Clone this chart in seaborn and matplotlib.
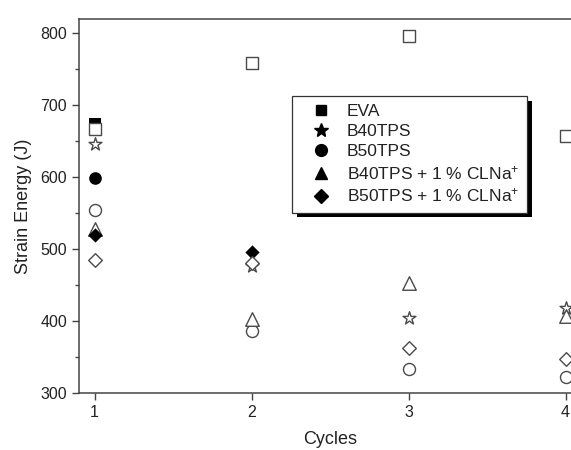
import numpy as np
import pandas as pd
import matplotlib
matplotlib.use("Agg")
import matplotlib.pyplot as plt
import seaborn as sns
from matplotlib.lines import Line2D
from matplotlib import patheffects as pe
from matplotlib.ticker import MultipleLocator

# ---------------- data ----------------
cycles = [1, 2, 3, 4]
series_names = ["EVA", "B40TPS", "B50TPS",
                "B40TPS + 1 % CLNa$^{+}$", "B50TPS + 1 % CLNa$^{+}$"]

# open-symbol values (cycles 1-4)
eva_open = [667, 758, 795, 656]
b40_open = [645, 476, 404, 418]
b50_open = [554, 386, 333, 322]
b40cl_open = [527, 403, 452, 407]
b50cl_open = [484, 481, 362, 347]

# filled-symbol values
eva_fill_cycles = [1]
eva_fill = [674]
b40_fill_cycles = []
b40_fill = []
b50_fill_cycles = [1]
b50_fill = [599]
b40cl_fill_cycles = []
b40cl_fill = []
b50cl_fill_cycles = [1, 2]
b50cl_fill = [519, 495]

y_ticks = [300, 400, 500, 600, 700, 800]

# ---------------- style ----------------
sns.set_style("ticks")
plt.rcParams["font.family"] = ["Liberation Sans", "DejaVu Sans"]
plt.rcParams["mathtext.fontset"] = "custom"
plt.rcParams["mathtext.rm"] = "Liberation Sans"
plt.rcParams["mathtext.it"] = "Liberation Sans"
plt.rcParams["mathtext.default"] = "regular"

markers = ["s", "*", "o", "^", "D"]
sizes = [70, 95, 75, 95, 48]
open_vals = [eva_open, b40_open, b50_open, b40cl_open, b50cl_open]
fill_x = [eva_fill_cycles, b40_fill_cycles, b50_fill_cycles, b40cl_fill_cycles, b50cl_fill_cycles]
fill_y = [eva_fill, b40_fill, b50_fill, b40cl_fill, b50cl_fill]

fig = plt.figure(figsize=(5.71, 4.5), dpi=100)
ax = fig.add_axes([0.138, 0.1267, 0.880, 0.831])

text_col = "#222222"
edge_col = "#4a4a4a"

z = 3
for name, mk, s, ov, fx, fy in zip(series_names, markers, sizes, open_vals, fill_x, fill_y):
    if len(fx):
        dff = pd.DataFrame({"Cycles": fx, "Strain": fy})
        sns.scatterplot(data=dff, x="Cycles", y="Strain", marker=mk, s=s * 1.1,
                        color="black", linewidth=0, ax=ax, zorder=z, legend=False)
        z += 0.1
    dfo = pd.DataFrame({"Cycles": cycles, "Strain": ov})
    sns.scatterplot(data=dfo, x="Cycles", y="Strain", marker=mk, s=s,
                    facecolors="white", edgecolor=edge_col, linewidth=1.0,
                    ax=ax, zorder=z, legend=False, clip_on=False)
    z += 0.1

ax.set_xlim(0.9, 4.1)
ax.set_ylim(300, 819)
ax.set_xticks(cycles)
ax.set_yticks(y_ticks)
ax.yaxis.set_minor_locator(MultipleLocator(50))
ax.tick_params(axis="both", which="major", direction="out", length=5, width=1.0,
               colors="#444444", labelcolor=text_col, labelsize=11.5)
ax.tick_params(axis="y", which="minor", direction="out", length=3, width=1.0, colors="#444444")
for sp in ["left", "bottom", "top"]:
    ax.spines[sp].set_color("#444444")
    ax.spines[sp].set_linewidth(1.1)
ax.spines["right"].set_visible(False)

ax.set_xlabel("Cycles", fontsize=13, color=text_col, labelpad=8)
ax.set_ylabel("Strain Energy (J)", fontsize=13, color=text_col, labelpad=6)

handles = [Line2D([], [], linestyle="none", marker=mk, color="black", markersize=ms)
           for mk, ms in zip(markers, [7, 10, 8.5, 8.5, 7])]
leg = ax.legend(handles, series_names, loc="upper left",
                bbox_to_anchor=(292 / 571, 1 - 96 / 450), bbox_transform=fig.transFigure,
                borderaxespad=0, fontsize=12.5, frameon=True, fancybox=False,
                edgecolor="#333333", framealpha=1, handlelength=2.4, handletextpad=0.3,
                labelspacing=0.28, borderpad=0.45, numpoints=1)
for t in leg.get_texts():
    t.set_color(text_col)
frame = leg.get_frame()
frame.set_linewidth(0.9)
frame.set_path_effects([pe.SimplePatchShadow(offset=(3.5, -3.5), shadow_rgbFace="black", alpha=1.0),
                        pe.Normal()])

fig.savefig("out.png", dpi=100, facecolor="white")
